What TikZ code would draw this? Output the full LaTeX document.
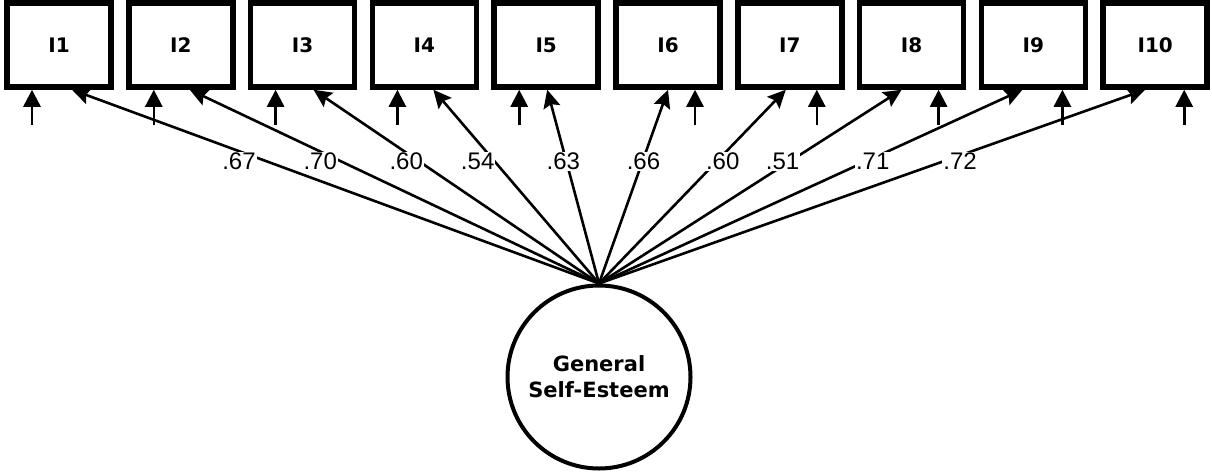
\documentclass[tikz,border=0pt]{standalone}
\usepackage{fontspec}
\setmainfont{Liberation Sans}
\newfontfamily\itemfont{DejaVu Sans}
\usetikzlibrary{arrows.meta,calc}

\begin{document}
\begin{tikzpicture}[
x=1pt,y=-1pt,
>={Stealth[length=18pt,width=17pt,inset=3pt]},
item/.style={
draw,
line width=5.5pt,
minimum width=104pt,
minimum height=84pt,
inner sep=0pt,
font=\itemfont\bfseries\fontsize{20}{22}\selectfont},
factor/.style={
draw,
circle,
line width=4pt,
minimum size=183pt,
inner sep=0pt,
align=center,
font=\itemfont\bfseries\fontsize{21}{26}\selectfont},
loading/.style={->,line width=2.6pt},
errarrow/.style={-{Triangle[length=17pt,width=17pt]},line width=2.6pt},
weight/.style={fill=white,inner sep=1pt,pos=.63,font=\fontsize{24}{24}\selectfont}
]

\useasboundingbox (0,0) rectangle (1212,472);

\node[factor] (gse) at (599,377) {General\\Self-Esteem};

% items, error terms and loadings
\foreach \i/\lo/\eo/\w/\dx in {1/13/-27/.67/-28, 2/9/-27/.70/-21, 3/11/-27/.60/-13,
  4/9/-27/.54/-17, 5/1/-27/.63/-3, 6/0/27/.66/1, 7/-4/27/.60/6,
  8/-10/27/.51/-7, 9/-11/29/.71/7, 10/-10/29/.72/17} {
  \node[item] (I\i) at ({59+121.8*(\i-1)},45) {I\i};
  \coordinate (e\i) at ($(I\i.south)+(\eo,35)$);
  \draw[errarrow] (e\i) -- (e\i |- I\i.south);
  \draw[loading] (gse.north) -- ($(I\i.south)+(\lo,0)$) node[weight,xshift=\dx pt] {\w};
}

\end{tikzpicture}
\end{document}
